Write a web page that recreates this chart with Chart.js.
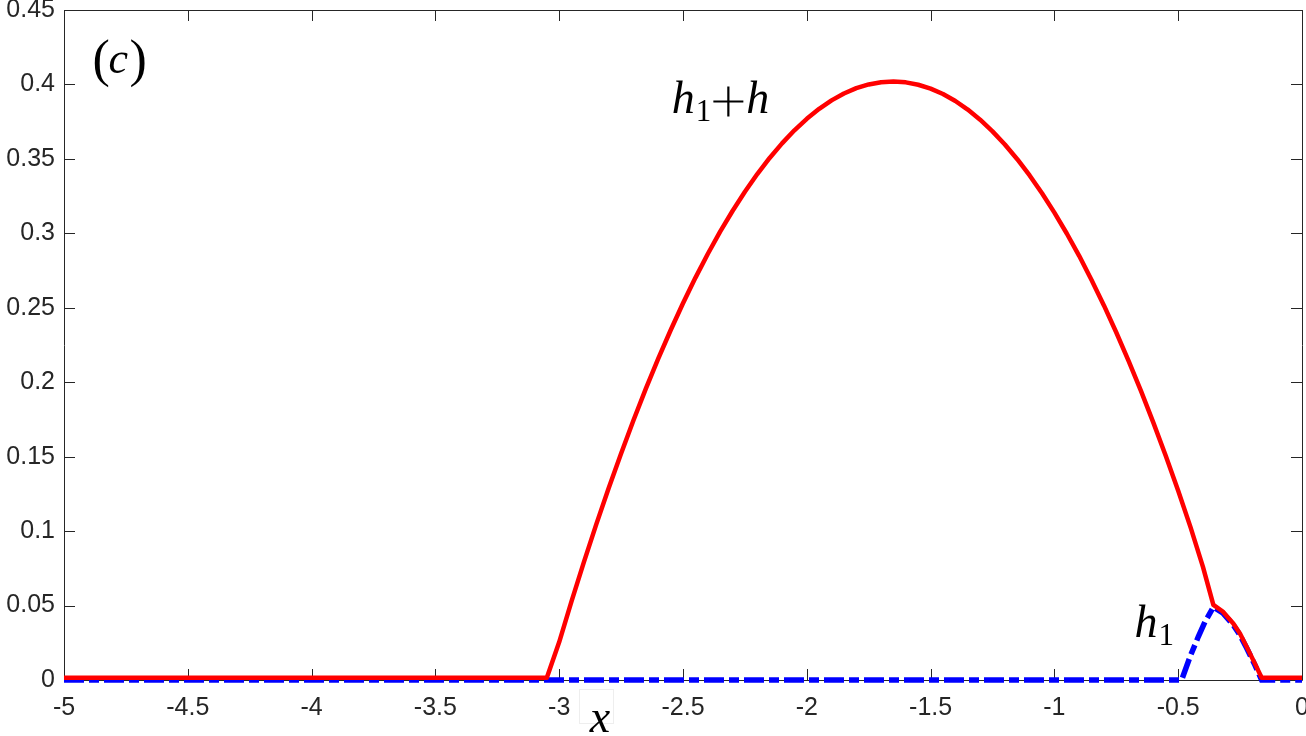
<!DOCTYPE html>
<html>
<head>
<meta charset="utf-8">
<script src="https://cdn.jsdelivr.net/npm/chart.js@4/dist/chart.umd.min.js"></script>
<style>
  html, body { margin: 0; padding: 0; background: #fff; }
  #wrap { width: 1306px; height: 736px; }
</style>
</head>
<body>
<div id="wrap"><canvas id="myChart" width="1306" height="736"></canvas></div>
<script>
// h1 + h (red solid)
var xTotal = [-5, -3.05, -3.0, -2.95, -2.9, -2.85, -2.8, -2.75, -2.7, -2.65, -2.6, -2.55, -2.5,
  -2.45, -2.4, -2.35, -2.3, -2.25, -2.2, -2.15, -2.1, -2.05, -2.0, -1.95, -1.9, -1.85, -1.8,
  -1.75, -1.7, -1.65, -1.6, -1.55, -1.5, -1.45, -1.4, -1.35, -1.3, -1.25, -1.2, -1.15, -1.1,
  -1.05, -1.0, -0.95, -0.9, -0.85, -0.8, -0.75, -0.7, -0.65, -0.6, -0.55, -0.5, -0.45, -0.4,
  -0.358, -0.32, -0.2775, -0.25, -0.2236, -0.19, -0.163, 0];
var yTotal = [0.0015, 0.0015, 0.0255, 0.053, 0.0793, 0.1047, 0.129, 0.1522, 0.1745, 0.1957, 0.2158, 0.2349, 0.253,
  0.2701, 0.2861, 0.3011, 0.315, 0.3279, 0.3398, 0.3506, 0.3604, 0.3692, 0.3769, 0.3836, 0.3893, 0.3939, 0.3975,
  0.4, 0.4015, 0.402, 0.4014, 0.3998, 0.3972, 0.3936, 0.3889, 0.3831, 0.3763, 0.3685, 0.3597, 0.3498, 0.3389,
  0.3269, 0.3139, 0.2999, 0.2849, 0.2687, 0.2516, 0.2334, 0.2142, 0.194, 0.1727, 0.1504, 0.1271, 0.1025, 0.076,
  0.0505, 0.046, 0.038, 0.031, 0.0224, 0.011, 0.0015, 0.0015];

// h1 (blue dash-dot)
var xH1 = [-5, -0.486, -0.452, -0.419, -0.392, -0.358, -0.32, -0.2775, -0.25, -0.2236, -0.19, -0.163, 0];
var yH1 = [0, 0, 0.0157, 0.029, 0.039, 0.049, 0.045, 0.037, 0.030, 0.0215, 0.010, 0, 0];

var xTicks = [-5, -4.5, -4, -3.5, -3, -2.5, -2, -1.5, -1, -0.5, 0];
var yTicks = [0, 0.05, 0.1, 0.15, 0.2, 0.25, 0.3, 0.35, 0.4, 0.45];

function pts(xs, ys) {
  return xs.map(function (x, i) { return { x: x, y: ys[i] }; });
}

var axisColor = '#262626';
var tickFont = { family: '"Liberation Sans", Arial, sans-serif', size: 25 };
var serif = '"Liberation Serif", "Times New Roman", serif';

// box with inward ticks on all four sides, drawn under the lines
var framePlugin = {
  id: 'frame',
  beforeDatasetsDraw: function (chart) {
    var c = chart.ctx, a = chart.chartArea;
    var xs = chart.scales.x, ys = chart.scales.y;
    var L = 11;
    c.save();
    c.strokeStyle = axisColor;
    c.lineWidth = 1;
    c.beginPath();
    c.rect(Math.round(a.left) + 0.5, Math.round(a.top) + 0.5,
      Math.round(a.right - a.left), Math.round(a.bottom - a.top));
    xTicks.forEach(function (v) {
      var p = Math.round(xs.getPixelForValue(v)) + 0.5;
      c.moveTo(p, a.bottom); c.lineTo(p, a.bottom - L);
      c.moveTo(p, a.top); c.lineTo(p, a.top + L);
    });
    yTicks.forEach(function (v) {
      var p = Math.round(ys.getPixelForValue(v)) + 0.5;
      c.moveTo(a.left, p); c.lineTo(a.left + L, p);
      c.moveTo(a.right, p); c.lineTo(a.right - L, p);
    });
    c.stroke();
    c.restore();
  },
  afterDraw: function (chart) {
    var c = chart.ctx, a = chart.chartArea;
    var xs = chart.scales.x, ys = chart.scales.y;
    c.save();
    c.fillStyle = '#000';
    c.textBaseline = 'alphabetic';
    c.textAlign = 'left';

    // (c)
    var px = xs.getPixelForValue(-4.885), py = ys.getPixelForValue(0.4055);
    c.font = '52px ' + serif;
    c.fillText('(', px, py);
    c.font = 'italic 44px ' + serif;
    c.fillText('c', px + 16, py - 3);
    c.font = '52px ' + serif;
    c.fillText(')', px + 37, py);

    // h1+h
    px = xs.getPixelForValue(-2.545); py = ys.getPixelForValue(0.3805);
    c.font = 'italic 46px ' + serif;
    c.fillText('h', px, py);
    px += c.measureText('h').width + 1;
    c.font = '31px ' + serif;
    c.fillText('1', px, py + 8);
    px += c.measureText('1').width + 2;
    // plus sign
    c.strokeStyle = '#000';
    c.lineWidth = 2.2;
    c.beginPath();
    c.moveTo(px, py - 12); c.lineTo(px + 30, py - 12);
    c.moveTo(px + 15, py - 27); c.lineTo(px + 15, py + 3);
    c.stroke();
    px += 33;
    c.font = 'italic 46px ' + serif;
    c.fillText('h', px, py);

    // h1
    px = xs.getPixelForValue(-0.676); py = ys.getPixelForValue(0.0289);
    c.font = 'italic 46px ' + serif;
    c.fillText('h', px, py);
    px += c.measureText('h').width + 1;
    c.font = '31px ' + serif;
    c.fillText('1', px, py + 8);

    // x axis title with its faint box
    var bx = Math.round(xs.getPixelForValue(-2.92));
    c.strokeStyle = '#eeeeee';
    c.lineWidth = 1;
    c.strokeRect(bx + 0.5, a.bottom + 9.5, 34, 34);
    c.font = 'italic 46px ' + serif;
    c.textAlign = 'center';
    c.fillText('x', bx + 21, a.bottom + 52);
    c.restore();
  }
};

var ctx = document.getElementById('myChart').getContext('2d');
var chart = new Chart(ctx, {
  type: 'line',
  data: {
    datasets: [
      {
        label: 'h1+h',
        data: pts(xTotal, yTotal),
        borderColor: '#ff0000',
        borderWidth: 4.5,
        borderJoinStyle: 'round',
        pointRadius: 0,
        tension: 0,
        clip: 10,
        fill: false
      },
      {
        label: 'h1',
        data: pts(xH1, yH1),
        borderColor: '#0000ff',
        borderWidth: 5.5,
        borderDash: [20, 5, 10, 5],
        pointRadius: 0,
        tension: 0,
        clip: 10,
        fill: false
      }
    ]
  },
  options: {
    responsive: false,
    animation: false,
    events: [],
    layout: { padding: { top: 10, right: 4, left: 0, bottom: 0 } },
    plugins: { legend: { display: false }, tooltip: { enabled: false } },
    scales: {
      x: {
        type: 'linear',
        min: -5, max: 0,
        afterBuildTicks: function (s) { s.ticks = xTicks.map(function (v) { return { value: v }; }); },
        afterFit: function (s) { s.height = 56; s.paddingLeft = 0; s.paddingRight = 0; },
        grid: { display: false, drawTicks: false },
        border: { display: false },
        ticks: {
          color: axisColor, font: tickFont, padding: 13, maxRotation: 0, autoSkip: false,
          callback: function (v) { return String(v); }
        }
      },
      y: {
        type: 'linear',
        min: 0, max: 0.45,
        afterBuildTicks: function (s) { s.ticks = yTicks.map(function (v) { return { value: v }; }); },
        afterFit: function (s) { s.width = 64; s.paddingTop = 0; s.paddingBottom = 0; },
        grid: { display: false, drawTicks: false },
        border: { display: false },
        ticks: {
          color: axisColor, font: tickFont, padding: 9, autoSkip: false,
          callback: function (v) { return String(v); }
        }
      }
    }
  },
  plugins: [framePlugin]
});
</script>
</body>
</html>
